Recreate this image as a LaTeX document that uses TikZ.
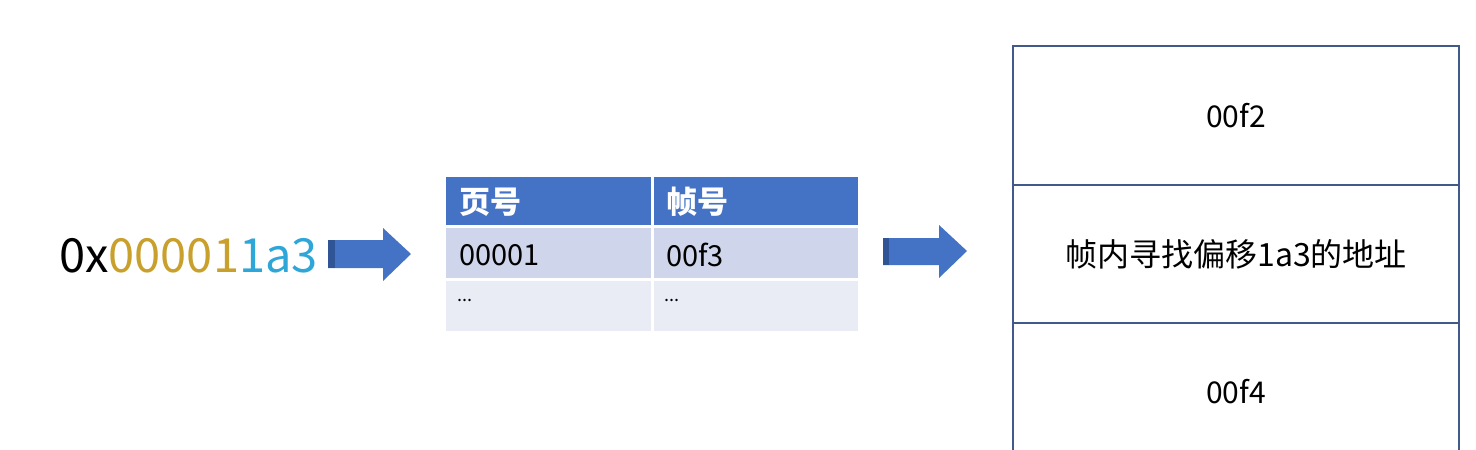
\documentclass[tikz,border=0pt]{standalone}
\usepackage{fontspec}
\setmainfont{Noto Sans CJK SC}
\definecolor{hdr}{HTML}{4472C4}
\definecolor{rowa}{HTML}{CFD5EA}
\definecolor{rowb}{HTML}{E9EBF5}
\definecolor{gold}{HTML}{C9A02C}
\definecolor{cyanx}{HTML}{2EA6D8}
\definecolor{memline}{HTML}{41598B}
\definecolor{arrdark}{HTML}{2F5597}
\tikzset{
  cell/.style={anchor=west, inner sep=0pt, font=\fontsize{29}{34}\selectfont},
  hcell/.style={anchor=west, inner sep=0pt, text=white, font=\bfseries\fontsize{31}{34}\selectfont},
  memtext/.style={inner sep=0pt, font=\fontsize{30}{36}\selectfont},
  memlong/.style={inner sep=0pt, font=\fontsize{32}{36}\selectfont},
  memln/.style={draw=memline, line width=2pt},
}
\begin{document}
\begin{tikzpicture}[x=1pt,y=-1pt]
\useasboundingbox[fill=white] (0,0) rectangle (1476,450);

% address
\node[anchor=west, inner sep=0pt, font=\fontsize{47}{52}\selectfont] (addr) at (59,256)
  {0x\textcolor{gold}{00001}\textcolor{cyanx}{1a3}};

% arrow 1
\fill[hdr] (328,240) -- (383,240) -- (383,228) -- (411,254) -- (383,281) -- (383,268) -- (328,268) -- cycle;
\fill[arrdark] (328,240) rectangle (335,268);

% table
\fill[hdr] (446,177) rectangle (651,225);
\fill[hdr] (654,177) rectangle (858,225);
\fill[rowa] (446,228) rectangle (651,278);
\fill[rowa] (654,228) rectangle (858,278);
\fill[rowb] (446,281) rectangle (651,331);
\fill[rowb] (654,281) rectangle (858,331);
\node[hcell] (h1) at (459,202) {页号};
\node[hcell] (h2) at (666,202) {帧号};
\node[cell] (c11) at (459,255) {00001};
\node[cell] (c12) at (666,255) {00f3};
\node[cell] (c21) at (457,300) {\fontsize{18}{20}\selectfont ...};
\node[cell] (c22) at (664,300) {\fontsize{18}{20}\selectfont ...};

% arrow 2
\fill[hdr] (883,238) -- (939,238) -- (939,225) -- (967,251) -- (939,278) -- (939,265) -- (883,265) -- cycle;
\fill[arrdark] (883,238) rectangle (889,265);

% memory
\draw[memln] (1013,450) -- (1013,46) -- (1459,46) -- (1459,450);
\draw[memln] (1013,185) -- (1459,185);
\draw[memln] (1013,323) -- (1459,323);
\node[memtext] (m1) at (1236,116) {00f2};
\node[memlong] (m2) at (1236,254) {帧内寻找偏移1a3的地址};
\node[memtext] (m3) at (1236,392) {00f4};
\end{tikzpicture}
\end{document}
